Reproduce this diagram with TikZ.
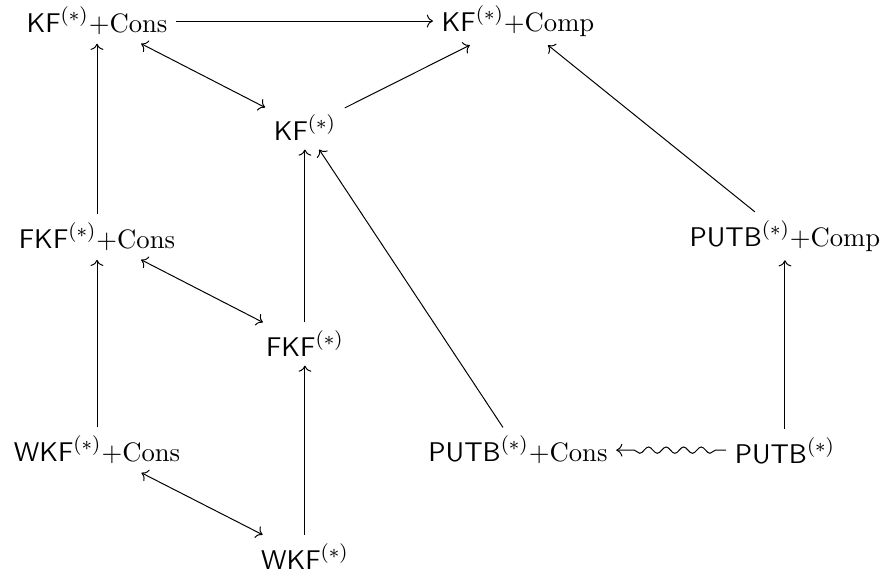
\documentclass[tikz,border=0pt]{standalone}
\usepackage{amsmath}
\usepackage{tikz}
\usetikzlibrary{positioning, arrows.meta, decorations.pathmorphing}

\begin{document}
\begin{tikzpicture}[
        x=0.405pt, y=-0.405pt,
        on grid, node distance=87pt and 170.5pt,
        prop/.style={inner sep=3.33pt, font=\fontsize{10.8}{13}\selectfont},
        imp/.style={draw, ->, >=To},
        equiv/.style={draw, <->, >=To},
        squig/.style={draw, ->, >=To, decorate,
            decoration={snake, amplitude=0.45mm, segment length=2.5mm, pre length=1.5mm, post length=1.5mm}}
    ]
    \useasboundingbox (0,0) rectangle (885,573);
    \node [prop] (kfcons) at (97,21) {$\mathsf{KF}^{(*)}$+Cons};
    \node [prop, right=of kfcons] (kfcomp) {$\mathsf{KF}^{(*)}$+Comp};
    \node [prop, below right=43.3pt and 84.2pt of kfcons] (kf) {$\mathsf{KF}^{(*)}$};
    \node [prop, below=87.5pt of kfcons] (fkfcons) {$\mathsf{FKF}^{(*)}$+Cons};
    \node [prop, below=87.5pt of kf] (fkf) {$\mathsf{FKF}^{(*)}$};
    \node [prop, below=86.3pt of fkfcons] (wkfcons) {$\mathsf{WKF}^{(*)}$+Cons};
    \node [prop, below=86pt of fkf] (wkf) {$\mathsf{WKF}^{(*)}$};
    \node [prop, right=of wkfcons] (putbcons) {$\mathsf{PUTB}^{(*)}$+Cons};
    \node [prop, right=108.1pt of putbcons] (putb) {$\mathsf{PUTB}^{(*)}$};
    \node [prop, above=86.7pt of putb] (putbcomp) {$\mathsf{PUTB}^{(*)}$+Comp};

    \draw [imp] (kfcons) -- (kfcomp);
    \draw [imp] (kf) -- (kfcomp);
    \draw [imp] (putbcomp) -- (kfcomp);
    \draw [imp] (fkfcons) -- (kfcons);
    \draw [imp] (wkfcons) -- (fkfcons);
    \draw [imp] (fkf) -- (kf);
    \draw [imp] (wkf) -- (fkf);
    \draw [imp] (putbcons) -- (kf);
    \draw [imp] (putb) -- (putbcomp);
    \draw [equiv] (kfcons) -- (kf);
    \draw [equiv] (fkfcons) -- (fkf);
    \draw [equiv] (wkfcons) -- (wkf);
    \draw [squig] (putb) -- (putbcons);
\end{tikzpicture}
\end{document}
